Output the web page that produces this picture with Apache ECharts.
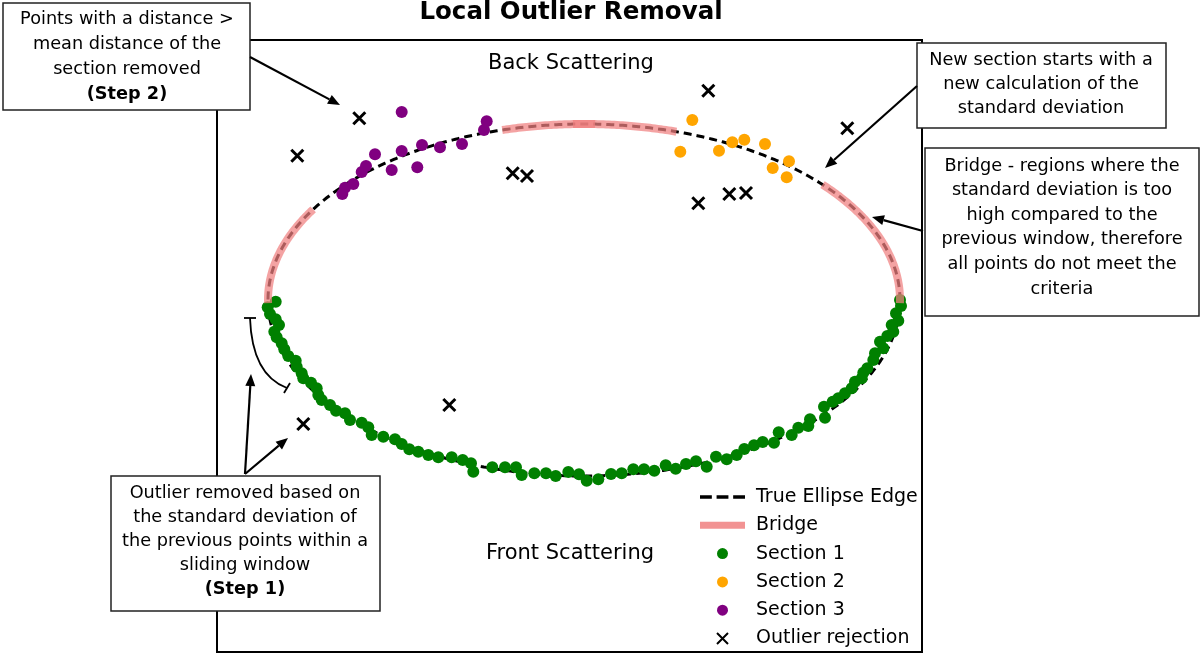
<!DOCTYPE html>
<html>
<head>
<meta charset="utf-8">
<title>Local Outlier Removal</title>
<script src="https://cdn.jsdelivr.net/npm/echarts@6/dist/echarts.min.js"></script>
<style>
  html, body { margin: 0; padding: 0; background: #fff; }
  #chart { width: 1200px; height: 655px; }
</style>
</head>
<body>
<div id="chart"></div>
<script>
// true ellipse, centred on 0,0
var ellipseA = 31.6;
var ellipseB = 17.6;

// bridge arcs on the ellipse: [start angle, end angle] in degrees
var bridgeArcs = [[149, 181], [73, 92], [88, 105], [-1, 41]];

var section1 = [
  [-30.83, -0.17], [-31.63, -0.73], [-31.4, -1.4], [-30.83, -1.93], [-30.5, -2.5],
  [-30.97, -3.17], [-30.73, -3.73], [-30.23, -4.33], [-29.97, -4.93], [-29.57, -5.6],
  [-28.83, -6.07], [-28.73, -6.67], [-28.23, -7.33], [-28.07, -7.83], [-27.3, -8.27],
  [-26.73, -8.83], [-26.57, -9.5], [-26.23, -10.0], [-25.4, -10.5], [-24.8, -11.07],
  [-23.9, -11.33], [-23.4, -12.0], [-22.23, -12.27], [-21.57, -12.73], [-21.23, -13.5],
  [-20.07, -13.67], [-18.9, -13.93], [-18.23, -14.4], [-17.47, -14.93], [-16.57, -15.17],
  [-15.57, -15.5], [-14.57, -15.73], [-13.23, -15.73], [-12.13, -16.0], [-11.3, -16.33],
  [-11.07, -17.17], [-9.17, -16.73], [-7.9, -16.73], [-6.8, -16.73], [-6.23, -17.5],
  [-4.97, -17.33], [-3.8, -17.33], [-2.83, -17.6], [-1.57, -17.2], [-0.5, -17.43],
  [0.27, -18.07], [1.43, -17.93], [2.7, -17.4], [3.77, -17.33], [4.93, -16.93],
  [6.0, -16.93], [7.03, -17.07], [8.17, -16.53], [9.17, -16.87], [10.2, -16.4],
  [11.2, -16.13], [12.27, -16.67], [13.2, -15.67], [14.27, -15.93], [15.27, -15.5],
  [16.03, -14.9], [17.0, -14.53], [17.87, -14.2], [19.0, -14.27], [19.47, -13.23],
  [20.77, -13.5], [21.43, -12.77], [22.43, -12.6], [22.6, -11.93], [24.0, -10.67],
  [24.1, -11.77], [24.87, -10.17], [25.43, -9.83], [26.1, -9.33], [26.77, -8.83],
  [27.1, -8.17], [27.77, -7.83], [27.93, -7.27], [28.33, -6.83], [28.93, -6.0],
  [29.1, -5.33], [29.93, -4.83], [29.6, -4.17], [30.33, -3.6], [30.93, -3.17],
  [30.77, -2.5], [31.43, -2.07], [31.2, -1.33], [31.7, -0.6], [31.6, 0.0]
];

var section2 = [
  [10.83, 18.0], [9.63, 14.83], [13.5, 14.93], [14.83, 15.77], [16.03, 16.03],
  [18.1, 15.6], [20.5, 13.87], [18.87, 13.2], [20.27, 12.27]
];

var section3 = [
  [-24.17, 10.6], [-23.9, 11.23], [-23.07, 11.6], [-22.23, 12.8], [-21.8, 13.4],
  [-20.9, 14.57], [-19.23, 13.0], [-18.23, 14.9], [-18.23, 18.8], [-16.67, 13.27],
  [-16.2, 15.5], [-14.4, 15.27], [-12.2, 15.6], [-10.0, 17.0], [-9.73, 17.87]
];

var outliers = [
  [-22.47, 18.17], [-28.67, 14.43], [-7.13, 12.67], [-5.7, 12.4], [12.43, 20.93],
  [26.33, 17.17], [11.43, 9.67], [14.53, 10.6], [16.2, 10.7], [-13.47, -10.5],
  [-28.07, -12.4]
];

var legendNames = ['True Ellipse Edge', 'Bridge', 'Section 1', 'Section 2', 'Section 3', 'Outlier rejection'];

var FONT = 'DejaVu Sans';
var BOX_FONT = 17.7;

function arcPoints(from, to) {
  var pts = [];
  for (var d = from; d <= to; d += 0.5) {
    var t = d * Math.PI / 180;
    pts.push([ellipseA * Math.cos(t), ellipseB * Math.sin(t)]);
  }
  return pts;
}

// annotation boxes
var boxes = [
  { x: 3, y: 3, w: 247, h: 107, cx: 127, cy: 56.5, lh: 25,
    lines: ['Points with a distance >', 'mean distance of the', 'section removed'], bold: '(Step 2)' },
  { x: 917, y: 43, w: 249, h: 85, cx: 1041, cy: 84, lh: 24,
    lines: ['New section starts with a', 'new calculation of the', 'standard deviation'] },
  { x: 925, y: 148, w: 274, h: 168, cx: 1062, cy: 227.5, lh: 24.6,
    lines: ['Bridge - regions where the', 'standard deviation is too', 'high compared to the',
            'previous window, therefore', 'all points do not meet the', 'criteria'] },
  { x: 111, y: 476, w: 269, h: 135, cx: 245, cy: 541, lh: 24,
    lines: ['Outlier removed based on', 'the standard deviation of', 'the previous points within a',
            'sliding window'], bold: '(Step 1)' }
];

var arrows = [
  [250, 57, 340, 105],
  [917, 86, 825, 168],
  [923, 231, 872, 217],
  [245, 474, 251, 374],
  [245, 474, 288, 438]
];

var graphics = [];

boxes.forEach(function (b) {
  var txt = b.lines.join('\n');
  if (b.bold) txt += '\n{b|' + b.bold + '}';
  graphics.push({
    type: 'rect', z: 100,
    shape: { x: b.x, y: b.y, width: b.w, height: b.h },
    style: { fill: '#fff', stroke: '#222', lineWidth: 1.5 }
  });
  graphics.push({
    type: 'text', z: 101, x: b.cx, y: b.cy,
    style: {
      text: txt, fontFamily: FONT, fontSize: BOX_FONT, lineHeight: b.lh, fill: '#000',
      align: 'center', verticalAlign: 'middle',
      rich: { b: { fontFamily: FONT, fontSize: BOX_FONT, fontWeight: 'bold', lineHeight: b.lh } }
    }
  });
});

arrows.forEach(function (a) {
  var ang = Math.atan2(a[3] - a[1], a[2] - a[0]);
  var L = 12, W = 5;
  var bx = a[2] - L * Math.cos(ang), by = a[3] - L * Math.sin(ang);
  graphics.push({
    type: 'line', z: 102,
    shape: { x1: a[0], y1: a[1], x2: bx, y2: by },
    style: { stroke: '#000', lineWidth: 2.2 }
  });
  graphics.push({
    type: 'polygon', z: 102,
    shape: { points: [[a[2], a[3]], [bx + W * Math.sin(ang), by - W * Math.cos(ang)], [bx - W * Math.sin(ang), by + W * Math.cos(ang)]] },
    style: { fill: '#000' }
  });
});

// bracket showing the sliding window
graphics.push({
  type: 'bezierCurve', z: 102,
  shape: { x1: 250, y1: 318, cpx1: 252, cpy1: 375, x2: 287, y2: 388 },
  style: { stroke: '#000', lineWidth: 1.8, fill: 'none' }
});
graphics.push({ type: 'line', z: 102, shape: { x1: 244, y1: 318, x2: 256, y2: 318 }, style: { stroke: '#000', lineWidth: 1.8 } });
graphics.push({ type: 'line', z: 102, shape: { x1: 284, y1: 393, x2: 290, y2: 383 }, style: { stroke: '#000', lineWidth: 1.8 } });

// titles and region labels
graphics.push({ type: 'text', z: 101, x: 571, y: 13,
  style: { text: 'Local Outlier Removal', fontFamily: FONT, fontSize: 24.5, fontWeight: 'bold', fill: '#000', align: 'center', verticalAlign: 'middle' } });
graphics.push({ type: 'text', z: 101, x: 571, y: 64,
  style: { text: 'Back Scattering', fontFamily: FONT, fontSize: 21, fill: '#000', align: 'center', verticalAlign: 'middle' } });
graphics.push({ type: 'text', z: 101, x: 570, y: 554,
  style: { text: 'Front Scattering', fontFamily: FONT, fontSize: 21, fill: '#000', align: 'center', verticalAlign: 'middle' } });

var series = [
  {
    name: 'True Ellipse Edge', type: 'line', data: arcPoints(0, 360),
    symbol: 'none', showSymbol: false, z: 2,
    itemStyle: { color: '#000' },
    lineStyle: { color: '#000', width: 3, type: [8, 5] }
  },
  { name: 'Section 1', type: 'scatter', data: section1, symbolSize: 12, z: 3, itemStyle: { color: '#008000', opacity: 1 } },
  { name: 'Section 2', type: 'scatter', data: section2, symbolSize: 12, z: 3, itemStyle: { color: '#ffa500', opacity: 1 } },
  { name: 'Section 3', type: 'scatter', data: section3, symbolSize: 12, z: 3, itemStyle: { color: '#800080', opacity: 1 } },
  {
    name: 'Outlier rejection', type: 'scatter', data: outliers, z: 3,
    symbol: 'path://M0,0L10,10M10,0L0,10', symbolSize: 12, symbolKeepAspect: true,
    itemStyle: { color: 'rgba(0,0,0,0)', borderColor: '#000', borderWidth: 3, opacity: 1 }
  }
];

bridgeArcs.forEach(function (r) {
  series.push({
    name: 'Bridge', type: 'line', data: arcPoints(r[0], r[1]),
    symbol: 'none', showSymbol: false, z: 4,
    itemStyle: { color: '#f08080' },
    lineStyle: { color: '#f08080', width: 8, opacity: 0.72 }
  });
});

var legendIcons = {
  'True Ellipse Edge': { icon: 'path://M0,0h10v3h-10zM14,0h10v3h-10zM28,0h10v3h-10z', itemStyle: { color: '#000', borderWidth: 0 } },
  'Bridge': { icon: 'path://M0,0h45v7h-45z', itemStyle: { color: 'rgba(240,128,128,0.85)', borderWidth: 0 } },
  'Section 1': { icon: 'circle' },
  'Section 2': { icon: 'circle' },
  'Section 3': { icon: 'circle' }
};

var legendData = legendNames.map(function (n) {
  var item = { name: n };
  if (legendIcons[n]) {
    item.icon = legendIcons[n].icon;
    if (legendIcons[n].itemStyle) item.itemStyle = legendIcons[n].itemStyle;
  }
  return item;
});

var chart = echarts.init(document.getElementById('chart'));
chart.setOption({
  animation: false,
  backgroundColor: '#fff',
  grid: { left: 217, top: 40, width: 705, height: 612, show: true, borderColor: '#000', borderWidth: 2, backgroundColor: 'transparent' },
  xAxis: { type: 'value', min: -36.7, max: 33.8, show: false, splitLine: { show: false } },
  yAxis: { type: 'value', min: -35.2, max: 26.0, show: false, splitLine: { show: false } },
  legend: {
    data: legendData, orient: 'vertical', left: 700, top: 487, padding: 0,
    itemWidth: 45, itemHeight: 11, itemGap: 8.3, selectedMode: false,
    textStyle: { fontFamily: FONT, fontSize: 19, color: '#000', lineHeight: 20, padding: [0, 0, 0, 6] }
  },
  tooltip: { show: false },
  graphic: graphics,
  series: series
});
</script>
</body>
</html>
